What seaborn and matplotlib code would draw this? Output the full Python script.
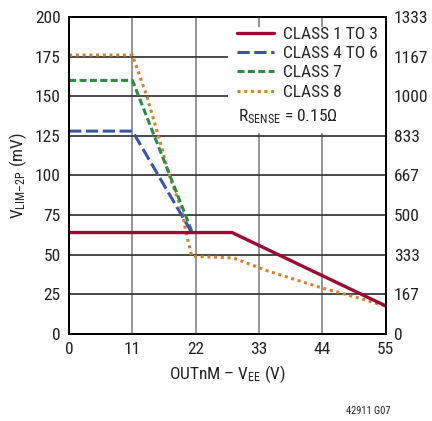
import matplotlib
matplotlib.use("Agg")
import matplotlib.pyplot as plt
import seaborn as sns
import pandas as pd

# ---- data ----
x_c13 = [0, 28.3, 55]
y_c13 = [64, 64, 17.7]
x_c46 = [0, 11, 21.3]
y_c46 = [128, 128, 64]
x_c7 = [0, 11, 21.4]
y_c7 = [160, 160, 64]
x_c8 = [0, 11, 13.5, 15.5, 17.5, 19.6, 20.3, 20.9, 21.3, 28.5, 34.3, 43.6, 50.5, 55]
y_c8 = [176, 176, 150, 125, 99, 78, 64, 55, 49, 48, 40, 29.4, 22.5, 17.6]
labels = ["CLASS 1 TO 3", "CLASS 4 TO 6", "CLASS 7", "CLASS 8"]
x_ticks = [0, 11, 22, 33, 44, 55]
y_ticks = [0, 25, 50, 75, 100, 125, 150, 175, 200]
right_labels = ["0", "167", "333", "500", "667", "833", "1000", "1167", "1333"]
colors = ["#9b0a35", "#3b54a5", "#2e8b47", "#cf8235"]

FONT = 'Roboto Condensed'
sns.set_theme(style="white")
plt.rcParams['font.family'] = [FONT, 'DejaVu Sans']
plt.rcParams['mathtext.fontset'] = 'custom'
plt.rcParams['mathtext.rm'] = FONT
plt.rcParams['mathtext.it'] = FONT
FS = 12.5
TXT = "#222222"

fig = plt.figure(figsize=(4.32, 4.21), dpi=100)
ax = fig.add_axes([0.16, 0.2067, 0.733, 0.7529])

frames = []
for xs, ys, lab in [(x_c13, y_c13, labels[0]), (x_c46, y_c46, labels[1]),
                    (x_c7, y_c7, labels[2]), (x_c8, y_c8, labels[3])]:
    frames.append(pd.DataFrame({"x": xs, "y": ys, "cls": lab}))
df = pd.concat(frames, ignore_index=True)

styles = {labels[0]: (None, 2.4), labels[1]: ((4, 1.5), 2.2),
          labels[2]: ((2.3, 1.1), 2.2), labels[3]: ((1.0, 1.2), 2.2)}
handles = []
for i, lab in enumerate(labels):
    sub = df[df.cls == lab]
    dash, lw = styles[lab]
    sns.lineplot(data=sub, x="x", y="y", ax=ax, color=colors[i], lw=lw,
                 sort=False, estimator=None, label=lab, zorder=3 + (3 - i) * 0.1)
    line = ax.lines[-1]
    if dash is not None:
        line.set_dashes(dash)
    handles.append(line)

ax.set_xlim(0, 55)
ax.set_ylim(0, 200)
ax.set_xticks(x_ticks)
ax.set_yticks(y_ticks)
for xv in x_ticks[1:-1]:
    ax.axvline(xv, color="#8c8c8c", lw=1.3, zorder=1)
for yv in y_ticks[1:-1]:
    ax.axhline(yv, color="#3a3a3a", lw=1.3, zorder=1)
ax.tick_params(axis="both", length=0, labelsize=FS, colors=TXT, pad=6)
for s in ax.spines.values():
    s.set_color("black")
    s.set_linewidth(1.4)

ax.set_xlabel(r"OUTnM – V$_{\rm EE}$ (V)", fontsize=FS, color=TXT, labelpad=4)
ax.set_ylabel(r"V$_{\rm LIM–2P}$ (mV)", fontsize=FS, color=TXT, labelpad=4)

ax2 = ax.twinx()
ax2.set_ylim(0, 200)
ax2.set_yticks(y_ticks)
ax2.set_yticklabels(right_labels)
ax2.tick_params(axis="y", length=0, labelsize=FS, colors=TXT, pad=6)
for s in ax2.spines.values():
    s.set_color("black")
    s.set_linewidth(1.4)
ax2.grid(False)

# white area behind legend
ax.add_patch(plt.Rectangle((27.6, 126.8), 27.4, 67.0, facecolor="white",
                           edgecolor="none", zorder=4))
leg = ax.legend(handles=handles, labels=labels, loc="upper left",
                bbox_to_anchor=(29.2, 194.0), bbox_transform=ax.transData,
                frameon=False, fontsize=FS,
                handlelength=2.1, handletextpad=0.55, labelspacing=0.24,
                borderpad=0, borderaxespad=0)
leg.set_zorder(6)
ax.text(29.3, 137, r"R$_{\rm SENSE}$ = 0.15Ω", fontsize=FS, color=TXT,
        va="center", ha="left", zorder=6)

fig.text(0.903, 0.017, "42911 G07", fontsize=7.5, color=TXT, ha="right")

fig.savefig("out.png", dpi=100)
